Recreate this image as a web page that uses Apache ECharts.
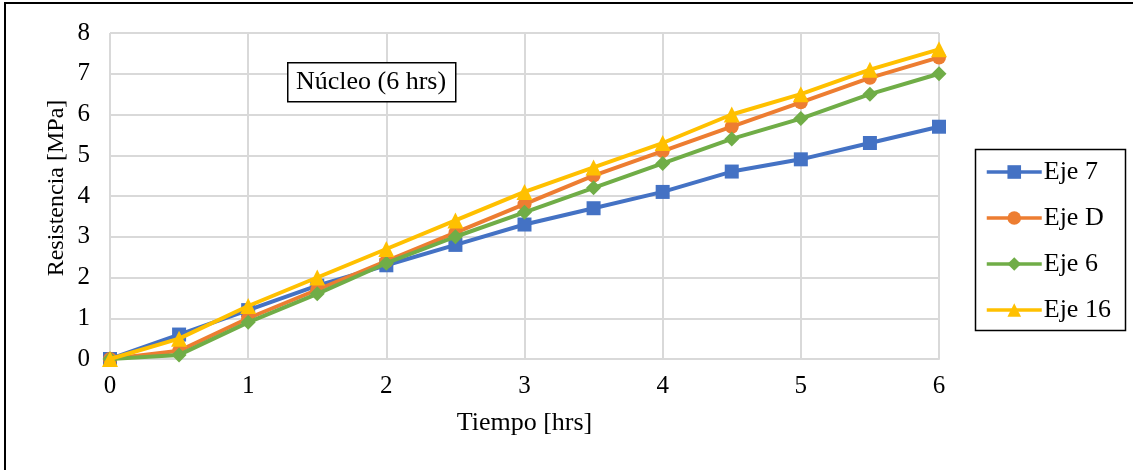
<!DOCTYPE html>
<html><head><meta charset="utf-8">
<script src="https://cdn.jsdelivr.net/npm/echarts@6/dist/echarts.min.js"></script>
<style>
html,body{margin:0;padding:0;background:#fff;}
#c{width:1133px;height:470px;position:relative;}
#frame{position:absolute;left:4px;top:2px;width:1140px;height:480px;border:2px solid #000;box-sizing:border-box;pointer-events:none;}
</style></head>
<body>
<div id="c"></div>
<div id="frame"></div>
<script>
const times = [0,0.5,1,1.5,2,2.5,3,3.5,4,4.5,5,5.5,6];
const eje7  = [0,0.6,1.2,1.8,2.3,2.8,3.3,3.7,4.1,4.6,4.9,5.3,5.7];
const ejeD  = [0,0.2,1.0,1.7,2.4,3.1,3.8,4.5,5.1,5.7,6.3,6.9,7.4];
const eje6  = [0,0.1,0.9,1.6,2.35,3.0,3.6,4.2,4.8,5.4,5.9,6.5,7.0];
const eje16 = [0,0.5,1.3,2.0,2.7,3.4,4.1,4.7,5.3,6.0,6.5,7.1,7.6];
const seriesNames = ['Eje 7','Eje D','Eje 6','Eje 16'];
const xTicks = [0,1,2,3,4,5,6];
const yTicks = [0,1,2,3,4,5,6,7,8];

const font = '"Liberation Serif", "Times New Roman", serif';
const colors = ['#4472C4','#ED7D31','#70AD47','#FFC000'];
const symbols = ['rect','circle','diamond','triangle'];
const sizes = [14,14,15,16];
const data = [eje7, ejeD, eje6, eje16];

const chart = echarts.init(document.getElementById('c'), null, {renderer:'canvas'});
chart.setOption({
  animation:false,
  backgroundColor:'#fff',
  grid:{left:110, top:33, right:194, bottom:111, containLabel:false},
  xAxis:{
    type:'value', min:xTicks[0], max:xTicks[xTicks.length-1], interval:1,
    name:'Tiempo [hrs]', nameLocation:'middle', nameGap:51,
    nameTextStyle:{fontFamily:font, fontSize:26, color:'#000'},
    axisLine:{show:true, lineStyle:{color:'#d9d9d9', width:2}},
    axisTick:{show:false},
    axisLabel:{fontFamily:font, fontSize:25, color:'#000', margin:15},
    splitLine:{show:true, lineStyle:{color:'#d9d9d9', width:2}}
  },
  yAxis:{
    type:'value', min:yTicks[0], max:yTicks[yTicks.length-1], interval:1,
    axisLine:{show:false},
    axisTick:{show:false},
    axisLabel:{fontFamily:font, fontSize:25, color:'#000', margin:20},
    splitLine:{show:true, lineStyle:{color:'#d9d9d9', width:2}}
  },
  legend:{
    orient:'vertical', left:985, top:159,
    padding:0, itemGap:20,
    itemWidth:55, itemHeight:17,
    lineStyle:{width:3.5},
    textStyle:{fontFamily:font, fontSize:26, color:'#000', padding:[0,0,0,-3]},
    data:seriesNames
  },
  graphic:[
    {type:'rect', left:973, top:147, shape:{x:0,y:0,width:150,height:181}, style:{fill:'none', stroke:'#000', lineWidth:1.5}, z:-1},
    {type:'rect', left:287, top:62, shape:{x:0,y:0,width:168,height:39}, style:{fill:'#fff', stroke:'#000', lineWidth:1.5}, z:10},
    {type:'text', x:371, y:82, style:{text:'Núcleo (6 hrs)', font:'26px '+font, fill:'#000', align:'center', verticalAlign:'middle'}, z:11},
    {type:'text', x:57, y:188, rotation:Math.PI/2, style:{text:'Resistencia [MPa]', font:'24px '+font, fill:'#000', align:'center', verticalAlign:'middle'}}
  ],
  series: seriesNames.map((n,i)=>({
    name:n, type:'line',
    data: times.map((t,j)=>[t, data[i][j]]),
    symbol:symbols[i], symbolSize:sizes[i], showSymbol:true,
    lineStyle:{color:colors[i], width:4},
    itemStyle:{color:colors[i]},
    z:2+i
  }))
});
</script>
</body></html>
